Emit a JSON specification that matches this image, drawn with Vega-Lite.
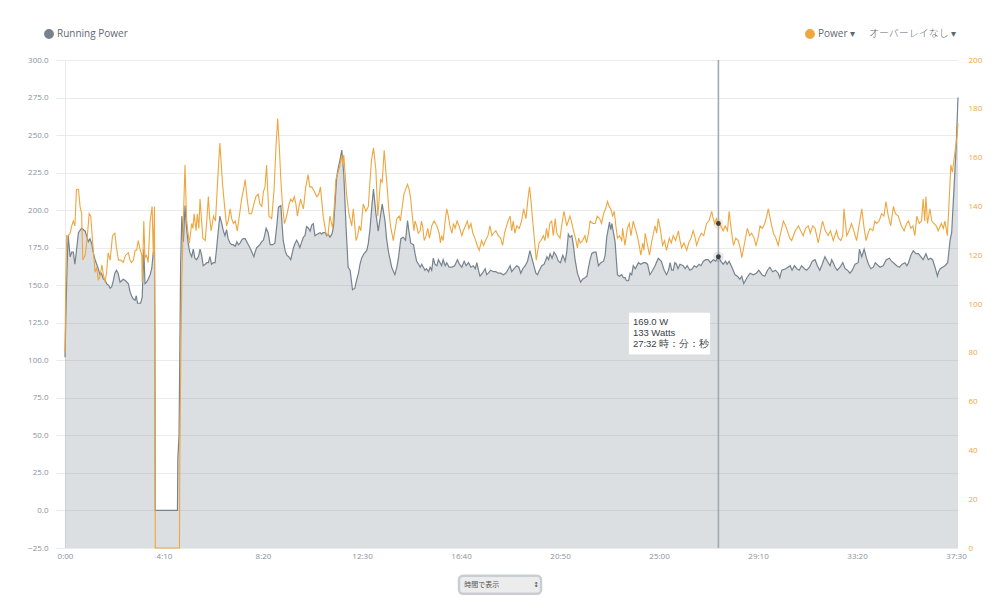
{
  "$schema": "https://vega.github.io/schema/vega-lite/v6.json",
  "width": 893,
  "height": 488,
  "autosize": {"type": "none"},
  "padding": {"left": 65, "top": 60, "right": 42, "bottom": 68},
  "background": "white",
  "config": {"view": {"stroke": null}, "font": "Open Sans"},
  "datasets": {
    "running": [
      {"t":0,"w":102},{"t":2,"w":128},{"t":5,"w":160},{"t":8,"w":183},{"t":13,"w":169},{"t":17,"w":172},{"t":21,"w":172},{"t":25,"w":164},{"t":34,"w":185},{"t":42,"w":188},{"t":51,"w":186},{"t":59,"w":179},{"t":63,"w":181},{"t":67,"w":178},{"t":72,"w":171},{"t":76,"w":167},{"t":80,"w":164},{"t":84,"w":161},{"t":88,"w":157},{"t":92,"w":158},{"t":97,"w":154},{"t":101,"w":154},{"t":105,"w":151},{"t":110,"w":150},{"t":114,"w":148},{"t":118,"w":149},{"t":122,"w":153},{"t":126,"w":158},{"t":130,"w":160},{"t":134,"w":158},{"t":139,"w":152},{"t":143,"w":153},{"t":147,"w":154},{"t":153,"w":153},{"t":160,"w":151},{"t":164,"w":146},{"t":168,"w":143},{"t":172,"w":141},{"t":177,"w":140},{"t":180,"w":143},{"t":183,"w":138},{"t":187,"w":138},{"t":191,"w":138},{"t":195,"w":142},{"t":199,"w":174},{"t":202,"w":151},{"t":206,"w":152},{"t":210,"w":154},{"t":215,"w":157},{"t":219,"w":161},{"t":223,"w":172},{"t":226,"w":172},{"t":227,"w":122},{"t":228,"w":0},{"t":284,"w":0},{"t":285,"w":35},{"t":288,"w":50},{"t":292,"w":165},{"t":295,"w":196},{"t":299,"w":179},{"t":303,"w":203},{"t":307,"w":188},{"t":311,"w":178},{"t":315,"w":172},{"t":320,"w":169},{"t":324,"w":174},{"t":328,"w":168},{"t":332,"w":167},{"t":337,"w":169},{"t":341,"w":174},{"t":345,"w":170},{"t":349,"w":163},{"t":354,"w":164},{"t":358,"w":165},{"t":362,"w":165},{"t":366,"w":169},{"t":370,"w":164},{"t":375,"w":165},{"t":379,"w":165},{"t":383,"w":175},{"t":387,"w":186},{"t":391,"w":196},{"t":396,"w":191},{"t":400,"w":186},{"t":404,"w":183},{"t":408,"w":187},{"t":412,"w":181},{"t":417,"w":178},{"t":421,"w":177},{"t":425,"w":177},{"t":430,"w":176},{"t":434,"w":179},{"t":438,"w":177},{"t":442,"w":178},{"t":446,"w":180},{"t":450,"w":181},{"t":455,"w":181},{"t":459,"w":179},{"t":463,"w":177},{"t":467,"w":175},{"t":472,"w":172},{"t":477,"w":169},{"t":480,"w":172},{"t":484,"w":175},{"t":488,"w":176},{"t":492,"w":177},{"t":497,"w":179},{"t":501,"w":180},{"t":504,"w":183},{"t":508,"w":188},{"t":513,"w":185},{"t":518,"w":177},{"t":524,"w":177},{"t":530,"w":178},{"t":535,"w":190},{"t":539,"w":202},{"t":545,"w":203},{"t":551,"w":180},{"t":556,"w":173},{"t":560,"w":170},{"t":565,"w":169},{"t":570,"w":167},{"t":577,"w":175},{"t":581,"w":178},{"t":585,"w":180},{"t":589,"w":178},{"t":593,"w":175},{"t":598,"w":179},{"t":602,"w":182},{"t":606,"w":183},{"t":610,"w":189},{"t":615,"w":188},{"t":619,"w":186},{"t":623,"w":190},{"t":627,"w":191},{"t":631,"w":183},{"t":637,"w":184},{"t":644,"w":185},{"t":648,"w":184},{"t":652,"w":185},{"t":657,"w":185},{"t":661,"w":183},{"t":665,"w":184},{"t":669,"w":182},{"t":674,"w":184},{"t":678,"w":189},{"t":682,"w":205},{"t":686,"w":222},{"t":690,"w":228},{"t":694,"w":233},{"t":699,"w":240},{"t":704,"w":224},{"t":710,"w":187},{"t":715,"w":162},{"t":720,"w":160},{"t":726,"w":147},{"t":732,"w":148},{"t":736,"w":153},{"t":741,"w":158},{"t":745,"w":164},{"t":749,"w":168},{"t":755,"w":171},{"t":762,"w":173},{"t":766,"w":178},{"t":770,"w":187},{"t":775,"w":203},{"t":779,"w":214},{"t":785,"w":198},{"t":791,"w":186},{"t":796,"w":195},{"t":801,"w":204},{"t":808,"w":193},{"t":812,"w":181},{"t":817,"w":172},{"t":825,"w":162},{"t":833,"w":157},{"t":838,"w":162},{"t":842,"w":168},{"t":848,"w":181},{"t":854,"w":182},{"t":860,"w":180},{"t":865,"w":193},{"t":869,"w":185},{"t":873,"w":178},{"t":880,"w":177},{"t":884,"w":171},{"t":888,"w":166},{"t":893,"w":164},{"t":897,"w":162},{"t":901,"w":164},{"t":905,"w":162},{"t":909,"w":160},{"t":913,"w":161},{"t":918,"w":159},{"t":922,"w":162},{"t":926,"w":160},{"t":930,"w":168},{"t":934,"w":164},{"t":939,"w":163},{"t":943,"w":167},{"t":947,"w":165},{"t":951,"w":163},{"t":955,"w":167},{"t":960,"w":163},{"t":964,"w":165},{"t":970,"w":162},{"t":977,"w":162},{"t":984,"w":163},{"t":991,"w":167},{"t":996,"w":164},{"t":1002,"w":162},{"t":1008,"w":166},{"t":1013,"w":163},{"t":1019,"w":165},{"t":1025,"w":162},{"t":1031,"w":163},{"t":1036,"w":161},{"t":1040,"w":165},{"t":1044,"w":160},{"t":1048,"w":156},{"t":1054,"w":158},{"t":1061,"w":161},{"t":1065,"w":157},{"t":1069,"w":158},{"t":1075,"w":160},{"t":1082,"w":159},{"t":1088,"w":159},{"t":1094,"w":158},{"t":1100,"w":158},{"t":1107,"w":157},{"t":1113,"w":158},{"t":1120,"w":161},{"t":1124,"w":163},{"t":1128,"w":159},{"t":1134,"w":161},{"t":1141,"w":163},{"t":1146,"w":162},{"t":1151,"w":158},{"t":1156,"w":161},{"t":1162,"w":163},{"t":1168,"w":166},{"t":1174,"w":173},{"t":1180,"w":167},{"t":1185,"w":162},{"t":1189,"w":158},{"t":1193,"w":157},{"t":1198,"w":160},{"t":1204,"w":163},{"t":1210,"w":164},{"t":1217,"w":169},{"t":1221,"w":167},{"t":1225,"w":171},{"t":1230,"w":168},{"t":1235,"w":172},{"t":1240,"w":170},{"t":1246,"w":166},{"t":1251,"w":165},{"t":1257,"w":170},{"t":1263,"w":166},{"t":1267,"w":172},{"t":1271,"w":184},{"t":1275,"w":182},{"t":1280,"w":183},{"t":1284,"w":176},{"t":1288,"w":167},{"t":1294,"w":158},{"t":1298,"w":155},{"t":1302,"w":152},{"t":1307,"w":154},{"t":1313,"w":155},{"t":1318,"w":156},{"t":1322,"w":162},{"t":1326,"w":167},{"t":1330,"w":171},{"t":1336,"w":172},{"t":1341,"w":172},{"t":1347,"w":163},{"t":1353,"w":165},{"t":1360,"w":166},{"t":1364,"w":170},{"t":1368,"w":182},{"t":1375,"w":192},{"t":1378,"w":187},{"t":1381,"w":191},{"t":1389,"w":179},{"t":1395,"w":157},{"t":1400,"w":156},{"t":1406,"w":157},{"t":1410,"w":155},{"t":1414,"w":155},{"t":1418,"w":153},{"t":1423,"w":153},{"t":1427,"w":158},{"t":1431,"w":157},{"t":1435,"w":163},{"t":1440,"w":161},{"t":1448,"w":165},{"t":1454,"w":164},{"t":1461,"w":165},{"t":1466,"w":165},{"t":1471,"w":164},{"t":1477,"w":157},{"t":1484,"w":160},{"t":1490,"w":163},{"t":1498,"w":168},{"t":1506,"w":166},{"t":1513,"w":160},{"t":1519,"w":157},{"t":1524,"w":160},{"t":1528,"w":165},{"t":1532,"w":160},{"t":1536,"w":160},{"t":1540,"w":165},{"t":1544,"w":164},{"t":1548,"w":161},{"t":1553,"w":164},{"t":1561,"w":163},{"t":1566,"w":161},{"t":1571,"w":163},{"t":1578,"w":160},{"t":1584,"w":161},{"t":1589,"w":163},{"t":1595,"w":162},{"t":1601,"w":164},{"t":1606,"w":163},{"t":1612,"w":166},{"t":1618,"w":167},{"t":1624,"w":167},{"t":1630,"w":165},{"t":1637,"w":167},{"t":1643,"w":166},{"t":1650,"w":169},{"t":1656,"w":166},{"t":1662,"w":164},{"t":1668,"w":166},{"t":1672,"w":164},{"t":1677,"w":166},{"t":1684,"w":162},{"t":1692,"w":157},{"t":1698,"w":156},{"t":1704,"w":154},{"t":1709,"w":156},{"t":1714,"w":151},{"t":1722,"w":155},{"t":1730,"w":158},{"t":1738,"w":157},{"t":1746,"w":158},{"t":1752,"w":160},{"t":1760,"w":157},{"t":1767,"w":156},{"t":1774,"w":160},{"t":1780,"w":162},{"t":1787,"w":159},{"t":1794,"w":160},{"t":1801,"w":158},{"t":1805,"w":155},{"t":1810,"w":160},{"t":1820,"w":161},{"t":1831,"w":163},{"t":1836,"w":160},{"t":1842,"w":163},{"t":1848,"w":161},{"t":1854,"w":160},{"t":1860,"w":163},{"t":1867,"w":161},{"t":1873,"w":160},{"t":1880,"w":162},{"t":1887,"w":166},{"t":1894,"w":167},{"t":1900,"w":163},{"t":1906,"w":160},{"t":1912,"w":164},{"t":1919,"w":169},{"t":1925,"w":166},{"t":1932,"w":163},{"t":1936,"w":167},{"t":1940,"w":165},{"t":1945,"w":162},{"t":1950,"w":160},{"t":1957,"w":162},{"t":1964,"w":165},{"t":1970,"w":161},{"t":1976,"w":160},{"t":1982,"w":158},{"t":1988,"w":160},{"t":1995,"w":164},{"t":2003,"w":165},{"t":2006,"w":174},{"t":2012,"w":169},{"t":2018,"w":174},{"t":2024,"w":168},{"t":2029,"w":164},{"t":2035,"w":161},{"t":2041,"w":162},{"t":2046,"w":165},{"t":2050,"w":164},{"t":2058,"w":162},{"t":2066,"w":163},{"t":2074,"w":167},{"t":2082,"w":168},{"t":2087,"w":166},{"t":2092,"w":165},{"t":2100,"w":163},{"t":2107,"w":162},{"t":2114,"w":164},{"t":2121,"w":165},{"t":2126,"w":163},{"t":2130,"w":165},{"t":2136,"w":170},{"t":2142,"w":173},{"t":2149,"w":171},{"t":2155,"w":171},{"t":2161,"w":169},{"t":2167,"w":167},{"t":2174,"w":171},{"t":2180,"w":167},{"t":2186,"w":168},{"t":2191,"w":167},{"t":2197,"w":162},{"t":2203,"w":156},{"t":2206,"w":159},{"t":2210,"w":161},{"t":2216,"w":162},{"t":2222,"w":163},{"t":2229,"w":165},{"t":2235,"w":180},{"t":2239,"w":185},{"t":2245,"w":215},{"t":2250,"w":240},{"t":2255,"w":275}
    ],
    "power": [
      {"t":0,"w":80},{"t":2,"w":110},{"t":4,"w":128},{"t":8,"w":128},{"t":13,"w":129},{"t":17,"w":132},{"t":21,"w":134},{"t":25,"w":132},{"t":29,"w":147},{"t":34,"w":147},{"t":38,"w":140},{"t":42,"w":137},{"t":45,"w":118},{"t":51,"w":120},{"t":56,"w":127},{"t":61,"w":137},{"t":65,"w":136},{"t":70,"w":125},{"t":76,"w":113},{"t":80,"w":115},{"t":84,"w":110},{"t":88,"w":111},{"t":93,"w":116},{"t":97,"w":112},{"t":101,"w":109},{"t":105,"w":113},{"t":109,"w":121},{"t":114,"w":118},{"t":120,"w":128},{"t":126,"w":129},{"t":130,"w":123},{"t":135,"w":118},{"t":141,"w":118},{"t":147,"w":117},{"t":153,"w":120},{"t":160,"w":121},{"t":164,"w":118},{"t":168,"w":117},{"t":173,"w":118},{"t":177,"w":122},{"t":181,"w":122},{"t":185,"w":126},{"t":190,"w":122},{"t":194,"w":120},{"t":195,"w":109},{"t":199,"w":134},{"t":202,"w":119},{"t":206,"w":120},{"t":210,"w":117},{"t":215,"w":134},{"t":220,"w":140},{"t":223,"w":120},{"t":226,"w":140},{"t":228,"w":0},{"t":289,"w":0},{"t":290,"w":40},{"t":293,"w":85},{"t":295,"w":110},{"t":299,"w":135},{"t":303,"w":157},{"t":307,"w":135},{"t":310,"w":130},{"t":314,"w":125},{"t":317,"w":129},{"t":320,"w":133},{"t":323,"w":131},{"t":326,"w":137},{"t":331,"w":130},{"t":334,"w":137},{"t":338,"w":131},{"t":341,"w":143},{"t":345,"w":134},{"t":348,"w":127},{"t":354,"w":126},{"t":358,"w":134},{"t":362,"w":144},{"t":365,"w":136},{"t":369,"w":130},{"t":372,"w":133},{"t":375,"w":136},{"t":380,"w":134},{"t":383,"w":143},{"t":386,"w":152},{"t":391,"w":166},{"t":398,"w":149},{"t":403,"w":140},{"t":408,"w":132},{"t":412,"w":134},{"t":417,"w":139},{"t":421,"w":135},{"t":425,"w":133},{"t":430,"w":134},{"t":435,"w":130},{"t":441,"w":137},{"t":446,"w":143},{"t":451,"w":147},{"t":455,"w":151},{"t":460,"w":143},{"t":465,"w":137},{"t":471,"w":137},{"t":477,"w":141},{"t":482,"w":144},{"t":488,"w":145},{"t":492,"w":141},{"t":497,"w":140},{"t":501,"w":146},{"t":505,"w":148},{"t":509,"w":157},{"t":515,"w":136},{"t":522,"w":135},{"t":528,"w":147},{"t":533,"w":165},{"t":537,"w":176},{"t":541,"w":165},{"t":545,"w":151},{"t":549,"w":141},{"t":554,"w":133},{"t":558,"w":135},{"t":561,"w":137},{"t":566,"w":141},{"t":570,"w":143},{"t":575,"w":142},{"t":579,"w":144},{"t":583,"w":141},{"t":587,"w":136},{"t":591,"w":140},{"t":595,"w":143},{"t":598,"w":141},{"t":602,"w":139},{"t":608,"w":148},{"t":614,"w":153},{"t":618,"w":148},{"t":623,"w":148},{"t":630,"w":146},{"t":636,"w":144},{"t":641,"w":145},{"t":645,"w":148},{"t":652,"w":136},{"t":659,"w":129},{"t":664,"w":128},{"t":669,"w":136},{"t":676,"w":131},{"t":680,"w":140},{"t":684,"w":151},{"t":688,"w":153},{"t":693,"w":156},{"t":699,"w":161},{"t":701,"w":157},{"t":704,"w":161},{"t":711,"w":145},{"t":717,"w":137},{"t":724,"w":132},{"t":728,"w":139},{"t":735,"w":126},{"t":739,"w":128},{"t":743,"w":132},{"t":747,"w":130},{"t":753,"w":141},{"t":760,"w":138},{"t":766,"w":140},{"t":770,"w":150},{"t":774,"w":159},{"t":779,"w":164},{"t":785,"w":155},{"t":790,"w":136},{"t":797,"w":151},{"t":801,"w":150},{"t":806,"w":163},{"t":814,"w":147},{"t":818,"w":138},{"t":822,"w":132},{"t":829,"w":126},{"t":833,"w":130},{"t":838,"w":135},{"t":844,"w":136},{"t":847,"w":134},{"t":850,"w":138},{"t":856,"w":145},{"t":860,"w":147},{"t":865,"w":149},{"t":869,"w":147},{"t":873,"w":143},{"t":877,"w":136},{"t":881,"w":130},{"t":884,"w":134},{"t":888,"w":132},{"t":892,"w":129},{"t":897,"w":130},{"t":900,"w":134},{"t":903,"w":132},{"t":907,"w":126},{"t":912,"w":128},{"t":916,"w":131},{"t":920,"w":127},{"t":923,"w":129},{"t":926,"w":132},{"t":932,"w":134},{"t":939,"w":132},{"t":945,"w":129},{"t":948,"w":125},{"t":951,"w":128},{"t":955,"w":126},{"t":960,"w":134},{"t":964,"w":139},{"t":968,"w":136},{"t":972,"w":132},{"t":977,"w":129},{"t":981,"w":133},{"t":985,"w":131},{"t":990,"w":134},{"t":995,"w":132},{"t":1002,"w":128},{"t":1006,"w":130},{"t":1011,"w":132},{"t":1016,"w":134},{"t":1020,"w":131},{"t":1025,"w":133},{"t":1030,"w":129},{"t":1035,"w":127},{"t":1041,"w":124},{"t":1046,"w":122},{"t":1052,"w":126},{"t":1057,"w":124},{"t":1062,"w":126},{"t":1068,"w":128},{"t":1073,"w":132},{"t":1078,"w":128},{"t":1082,"w":129},{"t":1088,"w":130},{"t":1094,"w":128},{"t":1100,"w":127},{"t":1105,"w":124},{"t":1110,"w":129},{"t":1115,"w":132},{"t":1119,"w":134},{"t":1124,"w":136},{"t":1128,"w":130},{"t":1132,"w":134},{"t":1136,"w":129},{"t":1141,"w":132},{"t":1147,"w":131},{"t":1153,"w":134},{"t":1158,"w":139},{"t":1164,"w":135},{"t":1169,"w":143},{"t":1173,"w":148},{"t":1177,"w":142},{"t":1180,"w":136},{"t":1185,"w":127},{"t":1190,"w":118},{"t":1197,"w":125},{"t":1202,"w":126},{"t":1208,"w":128},{"t":1212,"w":126},{"t":1216,"w":131},{"t":1220,"w":127},{"t":1224,"w":133},{"t":1229,"w":134},{"t":1233,"w":128},{"t":1238,"w":135},{"t":1242,"w":129},{"t":1246,"w":128},{"t":1250,"w":127},{"t":1255,"w":133},{"t":1260,"w":138},{"t":1267,"w":132},{"t":1271,"w":134},{"t":1275,"w":136},{"t":1280,"w":133},{"t":1284,"w":130},{"t":1289,"w":127},{"t":1294,"w":123},{"t":1297,"w":127},{"t":1301,"w":125},{"t":1307,"w":126},{"t":1313,"w":128},{"t":1317,"w":125},{"t":1322,"w":129},{"t":1326,"w":134},{"t":1333,"w":133},{"t":1339,"w":133},{"t":1344,"w":136},{"t":1350,"w":135},{"t":1355,"w":133},{"t":1360,"w":137},{"t":1365,"w":139},{"t":1370,"w":142},{"t":1374,"w":140},{"t":1378,"w":139},{"t":1383,"w":136},{"t":1387,"w":138},{"t":1391,"w":132},{"t":1395,"w":127},{"t":1400,"w":128},{"t":1406,"w":126},{"t":1408,"w":131},{"t":1414,"w":124},{"t":1420,"w":131},{"t":1425,"w":133},{"t":1429,"w":128},{"t":1435,"w":134},{"t":1440,"w":131},{"t":1445,"w":128},{"t":1450,"w":124},{"t":1454,"w":120},{"t":1459,"w":125},{"t":1462,"w":122},{"t":1465,"w":129},{"t":1470,"w":125},{"t":1476,"w":120},{"t":1481,"w":125},{"t":1486,"w":129},{"t":1490,"w":132},{"t":1494,"w":129},{"t":1498,"w":135},{"t":1503,"w":131},{"t":1509,"w":124},{"t":1514,"w":126},{"t":1519,"w":122},{"t":1526,"w":127},{"t":1531,"w":125},{"t":1536,"w":128},{"t":1542,"w":126},{"t":1549,"w":130},{"t":1553,"w":126},{"t":1557,"w":123},{"t":1563,"w":125},{"t":1570,"w":122},{"t":1575,"w":125},{"t":1581,"w":127},{"t":1586,"w":130},{"t":1590,"w":128},{"t":1595,"w":124},{"t":1601,"w":127},{"t":1607,"w":129},{"t":1613,"w":128},{"t":1620,"w":133},{"t":1626,"w":134},{"t":1633,"w":138},{"t":1637,"w":135},{"t":1641,"w":133},{"t":1645,"w":135},{"t":1650,"w":133},{"t":1656,"w":132},{"t":1662,"w":130},{"t":1667,"w":132},{"t":1673,"w":130},{"t":1677,"w":138},{"t":1682,"w":131},{"t":1688,"w":124},{"t":1694,"w":127},{"t":1700,"w":126},{"t":1705,"w":123},{"t":1709,"w":119},{"t":1716,"w":125},{"t":1723,"w":131},{"t":1729,"w":128},{"t":1734,"w":129},{"t":1740,"w":127},{"t":1745,"w":124},{"t":1750,"w":127},{"t":1755,"w":132},{"t":1761,"w":131},{"t":1767,"w":133},{"t":1772,"w":136},{"t":1776,"w":139},{"t":1782,"w":134},{"t":1789,"w":129},{"t":1795,"w":127},{"t":1801,"w":124},{"t":1807,"w":129},{"t":1814,"w":134},{"t":1820,"w":132},{"t":1826,"w":129},{"t":1830,"w":127},{"t":1835,"w":126},{"t":1844,"w":130},{"t":1852,"w":132},{"t":1858,"w":130},{"t":1864,"w":128},{"t":1870,"w":131},{"t":1877,"w":132},{"t":1882,"w":129},{"t":1888,"w":132},{"t":1894,"w":131},{"t":1898,"w":128},{"t":1902,"w":125},{"t":1908,"w":130},{"t":1913,"w":134},{"t":1920,"w":130},{"t":1927,"w":128},{"t":1933,"w":130},{"t":1940,"w":126},{"t":1944,"w":128},{"t":1948,"w":130},{"t":1953,"w":127},{"t":1959,"w":126},{"t":1964,"w":128},{"t":1967,"w":139},{"t":1974,"w":128},{"t":1980,"w":130},{"t":1986,"w":133},{"t":1992,"w":130},{"t":1999,"w":126},{"t":2005,"w":132},{"t":2012,"w":139},{"t":2018,"w":131},{"t":2023,"w":126},{"t":2028,"w":129},{"t":2033,"w":131},{"t":2040,"w":130},{"t":2045,"w":134},{"t":2050,"w":133},{"t":2056,"w":134},{"t":2062,"w":137},{"t":2068,"w":136},{"t":2073,"w":142},{"t":2079,"w":136},{"t":2085,"w":132},{"t":2092,"w":140},{"t":2097,"w":137},{"t":2104,"w":136},{"t":2112,"w":132},{"t":2119,"w":130},{"t":2125,"w":133},{"t":2130,"w":134},{"t":2136,"w":131},{"t":2141,"w":132},{"t":2146,"w":128},{"t":2151,"w":136},{"t":2157,"w":133},{"t":2163,"w":134},{"t":2167,"w":143},{"t":2171,"w":134},{"t":2174,"w":144},{"t":2178,"w":133},{"t":2184,"w":139},{"t":2189,"w":134},{"t":2194,"w":133},{"t":2200,"w":132},{"t":2205,"w":130},{"t":2213,"w":133},{"t":2218,"w":131},{"t":2222,"w":134},{"t":2225,"w":131},{"t":2228,"w":128},{"t":2232,"w":140},{"t":2237,"w":157},{"t":2241,"w":154},{"t":2247,"w":162},{"t":2252,"w":168},{"t":2255,"w":174}
    ],
    "tooltipLines": [
      {"t":1434,"w":125.7,"label":"169.0 W"},
      {"t":1434,"w":118.3,"label":"133 Watts"},
      {"t":1434,"w":110.9,"label":"27:32 時：分：秒"}
    ]
  },
  "layer": [
    {
      "layer": [
        {
          "data": {"name": "running"},
          "mark": {"type": "area", "fill": "#76838f", "fillOpacity": 0.26, "interpolate": "linear"},
          "encoding": {
            "x": {
              "field": "t",
              "type": "quantitative",
              "scale": {"domain": [0, 2255], "nice": false, "zero": false},
              "axis": {
                "values": [0, 250, 500, 750, 1000, 1250, 1500, 1750, 2000, 2250],
                "labelExpr": "floor(datum.value/60)+':'+(datum.value%60<10?'0':'')+datum.value%60",
                "title": null,
                "grid": false,
                "ticks": false,
                "domain": false,
                "labelAngle": 0,
                "labelFontSize": 8,
                "labelColor": "#87929c",
                "labelPadding": 4,
                "labelFlush": false,
                "labelOverlap": false
              }
            },
            "y": {
              "field": "w",
              "type": "quantitative",
              "scale": {"domain": [-25, 300], "nice": false, "zero": false},
              "axis": {
                "values": [-25, 0, 25, 50, 75, 100, 125, 150, 175, 200, 225, 250, 275, 300],
                "tickCount": 14,
                "format": ".1f",
                "title": null,
                "grid": true,
                "gridColor": "#ebebeb",
                "tickColor": "#ebebeb",
                "tickSize": 9,
                "domainColor": "#ebebeb",
                "labelFontSize": 8,
                "labelColor": "#87929c",
                "labelPadding": 8,
                "labelOverlap": false
              }
            },
            "y2": {"datum": -25}
          }
        },
        {
          "data": {"name": "running"},
          "mark": {"type": "line", "strokeWidth": 1.2, "interpolate": "linear"},
          "encoding": {
            "x": {"field": "t", "type": "quantitative"},
            "y": {"field": "w", "type": "quantitative"},
            "color": {
              "datum": "Running Power",
              "scale": {"domain": ["Running Power"], "range": ["#76838f"]},
              "legend": {
                "title": null,
                "orient": "none",
                "legendX": -21,
                "legendY": -31,
                "symbolType": "circle",
                "symbolSize": 70,
                "symbolFillColor": "#76838f",
                "labelFontSize": 10,
                "labelFont": "Open Sans",
                "labelColor": "#5f6870",
                "labelOffset": 3
              }
            }
          }
        },
        {
          "data": {"values": [{"t": 1650}]},
          "mark": {"type": "rule", "color": "#a3abb2", "strokeWidth": 1.6},
          "encoding": {"x": {"field": "t", "type": "quantitative"}}
        },
        {
          "data": {"values": [{"t": 1650, "w": 169}]},
          "mark": {"type": "point", "filled": true, "color": "#76838f", "opacity": 0.2, "size": 110},
          "encoding": {
            "x": {"field": "t", "type": "quantitative"},
            "y": {"field": "w", "type": "quantitative"}
          }
        },
        {
          "data": {"values": [{"t": 1650, "w": 169}]},
          "mark": {"type": "point", "filled": true, "color": "#3b3f44", "opacity": 1, "size": 24},
          "encoding": {
            "x": {"field": "t", "type": "quantitative"},
            "y": {"field": "w", "type": "quantitative"}
          }
        },
        {
          "data": {"values": [{"t": 1424, "t2": 1629, "w": 131.7, "w2": 103.8}]},
          "mark": {"type": "rect", "fill": "white", "cornerRadius": 1},
          "encoding": {
            "x": {"field": "t", "type": "quantitative"},
            "x2": {"field": "t2"},
            "y": {"field": "w", "type": "quantitative"},
            "y2": {"field": "w2"}
          }
        },
        {
          "data": {"name": "tooltipLines"},
          "mark": {"type": "text", "align": "left", "baseline": "middle", "fontSize": 9.5, "color": "#3a3f44", "font": "Liberation Sans"},
          "encoding": {
            "x": {"field": "t", "type": "quantitative"},
            "y": {"field": "w", "type": "quantitative"},
            "text": {"field": "label"}
          }
        },
        {
          "data": {"values": [{"t": 2030, "w": 317.5, "label": "オーバーレイなし ▾"}]},
          "mark": {"type": "text", "align": "left", "baseline": "middle", "fontSize": 10, "color": "#5f6870", "font": "Noto Sans CJK JP", "fontWeight": 300},
          "encoding": {
            "x": {"field": "t", "type": "quantitative"},
            "y": {"field": "w", "type": "quantitative"},
            "text": {"field": "label"}
          }
        },
        {
          "data": {"values": [{"t": 995, "t2": 1202, "w": -43.5, "w2": -55.5}]},
          "mark": {"type": "rect", "fill": "#ececec", "stroke": "#c9ced3", "strokeWidth": 2.5, "cornerRadius": 4},
          "encoding": {
            "x": {"field": "t", "type": "quantitative"},
            "x2": {"field": "t2"},
            "y": {"field": "w", "type": "quantitative"},
            "y2": {"field": "w2"}
          }
        },
        {
          "data": {"values": [{"t": 1008, "w": -49.5, "label": "時間で表示"}]},
          "mark": {"type": "text", "align": "left", "baseline": "middle", "fontSize": 7, "color": "#555", "font": "Noto Sans CJK JP"},
          "encoding": {
            "x": {"field": "t", "type": "quantitative"},
            "y": {"field": "w", "type": "quantitative"},
            "text": {"field": "label"}
          }
        },
        {
          "data": {"values": [{"t": 1190, "w": -49.5, "label": "↕"}]},
          "mark": {"type": "text", "align": "center", "baseline": "middle", "fontSize": 7, "color": "#444", "font": "DejaVu Sans"},
          "encoding": {
            "x": {"field": "t", "type": "quantitative"},
            "y": {"field": "w", "type": "quantitative"},
            "text": {"field": "label"}
          }
        }
      ]
    },
    {
      "layer": [
        {
          "data": {"name": "power"},
          "mark": {"type": "line", "strokeWidth": 1.1, "interpolate": "linear"},
          "encoding": {
            "x": {"field": "t", "type": "quantitative"},
            "y": {
              "field": "w",
              "type": "quantitative",
              "scale": {"domain": [0, 200], "nice": false},
              "axis": {
                "orient": "right",
                "values": [0, 20, 40, 60, 80, 100, 120, 140, 160, 180, 200],
                "title": null,
                "grid": false,
                "ticks": false,
                "domain": false,
                "labelFontSize": 8,
                "labelColor": "#eea63e",
                "labelPadding": 10,
                "labelOverlap": false
              }
            },
            "color": {
              "datum": "Power ▾",
              "scale": {"domain": ["Power ▾"], "range": ["#eea63e"]},
              "legend": {
                "title": null,
                "orient": "none",
                "legendX": 740,
                "legendY": -31,
                "symbolType": "circle",
                "symbolSize": 70,
                "symbolFillColor": "#eea63e",
                "labelFontSize": 10,
                "labelFont": "Open Sans",
                "labelColor": "#5f6870",
                "labelOffset": 3
              }
            }
          }
        },
        {
          "data": {"values": [{"t": 1650, "w": 133}]},
          "mark": {"type": "point", "filled": true, "color": "#eea63e", "opacity": 0.22, "size": 110},
          "encoding": {
            "x": {"field": "t", "type": "quantitative"},
            "y": {"field": "w", "type": "quantitative"}
          }
        },
        {
          "data": {"values": [{"t": 1650, "w": 133}]},
          "mark": {"type": "point", "filled": true, "color": "#3b3f44", "opacity": 1, "size": 24},
          "encoding": {
            "x": {"field": "t", "type": "quantitative"},
            "y": {"field": "w", "type": "quantitative"}
          }
        }
      ]
    }
  ],
  "resolve": {"scale": {"y": "independent", "color": "independent"}}
}
